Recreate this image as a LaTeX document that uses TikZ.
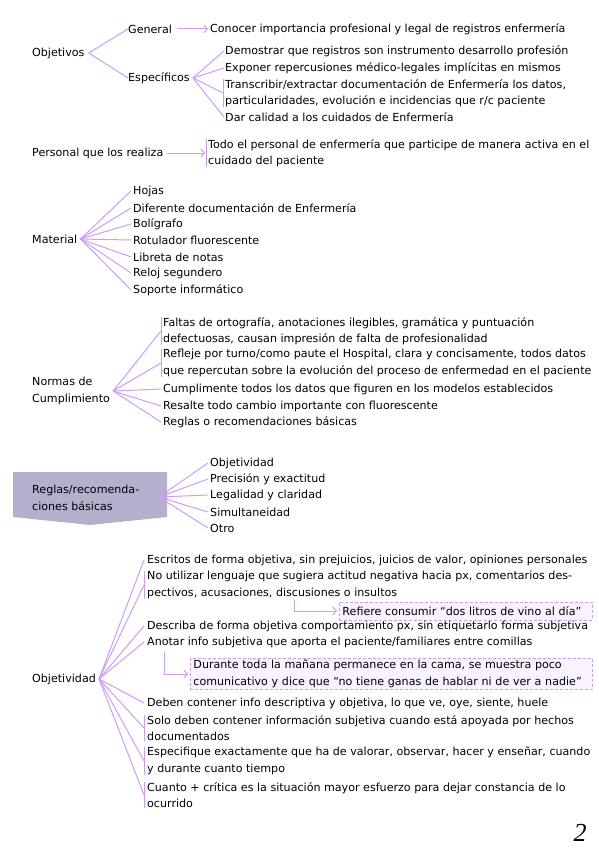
\documentclass[tikz,border=0pt]{standalone}
\usepackage{fontspec}
\setmainfont{DejaVu Sans}
\newfontfamily\pagefont{Liberation Serif}
\usetikzlibrary{arrows.meta}
\definecolor{lnk}{HTML}{CC9CF8}
\definecolor{boxfill}{HTML}{B6AFCB}
\definecolor{notefill}{HTML}{F9F2FF}
\begin{document}
\begin{tikzpicture}[x=1pt,y=-1pt,
  txt/.style={anchor=west, inner sep=0pt, align=left, font=\fontsize{11.1}{16.5}\selectfont},
  lk/.style={draw=lnk, line width=1pt},
  arr/.style={lk, -{Straight Barb[length=3.5pt,width=8pt]}},
  note/.style={txt, draw=lnk, dash pattern=on 3pt off 2pt, line width=0.9pt, fill=notefill, inner xsep=3pt, inner ysep=2pt}
]
\useasboundingbox (0,0) rectangle (599,848);

% ---------- Objetivos
\node[txt] (obj) at (32,53) {Objetivos};
\node[txt] (gen) at (128,29) {General};
\node[txt] (esp) at (128,78) {Específicos};
\node[txt] (con) at (210,29) {Conocer importancia profesional y legal de registros enfermería};
\node[txt] (dem) at (225,51) {Demostrar que registros son instrumento desarrollo profesión};
\node[txt] (exp) at (225,68) {Exponer repercusiones médico-legales implícitas en mismos};
\node[txt] (tra) at (225,93) {Transcribir/extractar documentación de Enfermería los datos,\\particularidades, evolución e incidencias que r/c paciente};
\node[txt] (dar) at (225,117) {Dar calidad a los cuidados de Enfermería};
\draw[lk] ([xshift=4pt]obj.east) -- (gen.west);
\draw[lk] ([xshift=4pt]obj.east) -- (esp.west);
\draw[arr] ([xshift=5pt]gen.east) -- ([xshift=-2pt]con.west);
\draw[lk] ([xshift=-2pt]tra.north west) -- ([xshift=-2pt]tra.south west);
\foreach \t in {dem,exp,dar} \draw[lk] ([xshift=3pt]esp.east) -- ([xshift=-1pt]\t.west);
\draw[lk] ([xshift=3pt]esp.east) -- ([xshift=-2pt]tra.west);

% ---------- Personal
\node[txt] (per) at (32,153) {Personal que los realiza};
\node[txt] (tod) at (208,153) {Todo el personal de enfermería que participe de manera activa en el\\cuidado del paciente};
\draw[lk] ([xshift=-2pt]tod.north west) -- ([xshift=-2pt]tod.south west);
\draw[arr] ([xshift=4pt]per.east) -- ([xshift=-3pt]tod.west);

% ---------- Material
\node[txt] (mat) at (32,239) {Material};
\node[txt] (m1) at (133,191) {Hojas};
\node[txt] (m2) at (133,208) {Diferente documentación de Enfermería};
\node[txt] (m3) at (133,224) {Bolígrafo};
\node[txt] (m4) at (133,240) {Rotulador fluorescente};
\node[txt] (m5) at (133,257) {Libreta de notas};
\node[txt] (m6) at (133,273) {Reloj segundero};
\node[txt] (m7) at (133,290) {Soporte informático};
\foreach \t in {m1,m2,m3,m4,m5,m6,m7} \draw[lk] ([xshift=3pt]mat.east) -- ([xshift=-2pt]\t.west);

% ---------- Normas
\node[txt] (nor) at (32,391) {Normas de\\Cumplimiento};
\node[txt] (n1) at (163,331) {Faltas de ortografía, anotaciones ilegibles, gramática y puntuación\\defectuosas, causan impresión de falta de profesionalidad};
\node[txt] (n2) at (163,363) {Refleje por turno/como paute el Hospital, clara y concisamente, todos datos\\que repercutan sobre la evolución del proceso de enfermedad en el paciente};
\node[txt] (n3) at (163,389) {Cumplimente todos los datos que figuren en los modelos establecidos};
\node[txt] (n4) at (163,406) {Resalte todo cambio importante con fluorescente};
\node[txt] (n5) at (163,422) {Reglas o recomendaciones básicas};
\foreach \t in {n1,n2} \draw[lk] ([xshift=-2pt]\t.north west) -- ([xshift=-2pt]\t.south west);
\foreach \t in {n1,n2,n3,n4,n5} \draw[lk] ([xshift=3pt]nor.east) -- ([xshift=-2pt]\t.west);

% ---------- Reglas box
\fill[boxfill] (13,472) -- (167,472) -- (167,517) -- (90,525) -- (13,517) -- cycle;
\node[txt] (rr) at (32,498) {Reglas/recomenda-\\ciones básicas};
\coordinate (rrh) at (159,497);
\node[txt] (r1) at (210,463) {Objetividad};
\node[txt] (r2) at (210,479) {Precisión y exactitud};
\node[txt] (r3) at (210,495) {Legalidad y claridad};
\node[txt] (r4) at (210,512) {Simultaneidad};
\node[txt] (r5) at (210,528) {Otro};
\foreach \t in {r1,r2,r3,r4,r5} \draw[lk] (rrh) -- ([xshift=-2pt]\t.west);

% ---------- Objetividad
\node[txt] (ov) at (32,679) {Objetividad};
\node[txt] (o1) at (147,560) {Escritos de forma objetiva, sin prejuicios, juicios de valor, opiniones personales};
\node[txt] (o2) at (147,585) {No utilizar lenguaje que sugiera actitud negativa hacia px, comentarios des-\\pectivos, acusaciones, discusiones o insultos};
\node[note, minimum width=253pt, minimum height=18pt, text width=247pt] (rf) at (339,611) {Refiere consumir “dos litros de vino al día”};
\node[txt] (o3) at (147,626) {Describa de forma objetiva comportamiento px, sin etiquetarlo forma subjetiva};
\node[txt] (o4) at (147,642) {Anotar info subjetiva que aporta el paciente/familiares entre comillas};
\node[note, minimum width=402pt, minimum height=31pt, text width=396pt] (du) at (190,674) {Durante toda la mañana permanece en la cama, se muestra poco\\comunicativo y dice que “no tiene ganas de hablar ni de ver a nadie”};
\node[txt] (o5) at (147,703) {Deben contener info descriptiva y objetiva, lo que ve, oye, siente, huele};
\node[txt] (o6) at (147,728) {Solo deben contener información subjetiva cuando está apoyada por hechos\\documentados};
\node[txt] (o7) at (147,761) {Especifique exactamente que ha de valorar, observar, hacer y enseñar, cuando\\y durante cuanto tiempo};
\node[txt] (o8) at (147,795) {Cuanto + crítica es la situación mayor esfuerzo para dejar constancia de lo\\ocurrido};
\foreach \t in {o2,o6,o7,o8} \draw[lk] ([xshift=-3pt]\t.north west) -- ([xshift=-3pt]\t.south west);
\foreach \t in {o1,o2,o3,o4,o5,o6,o7,o8} \draw[lk] ([xshift=3pt]ov.east) -- ([xshift=-3pt]\t.west);
\coordinate (a1) at (294,600);
\coordinate (a2) at (164,652);
\draw[arr] (a1) |- ([xshift=-2pt]rf.west);
\draw[arr] (a2) |- ([xshift=-2pt]du.west);

% ---------- page number
\node[inner sep=0pt, font=\pagefont\itshape\fontsize{26}{26}\selectfont] (pg) at (580,833) {2};
\end{tikzpicture}
\end{document}
